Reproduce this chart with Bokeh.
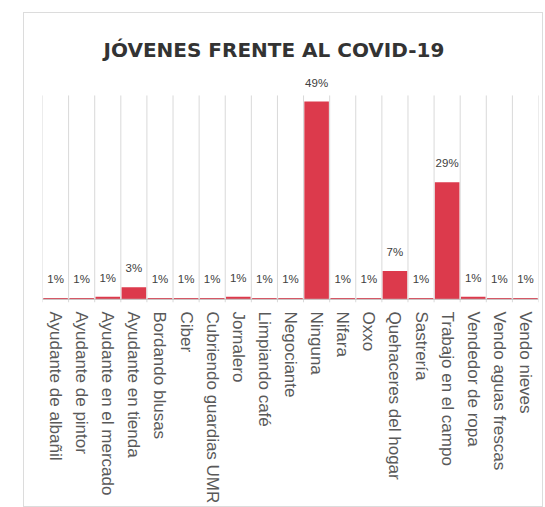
from bokeh.plotting import figure
from bokeh.models import ColumnDataSource, Range1d, LabelSet, Span, FactorRange
from bokeh.transform import dodge
from bokeh.embed import file_html
from bokeh.resources import INLINE
from bokeh.core.properties import value

categories = ["Ayudante de albañil", "Ayudante de pintor", "Ayudante en el mercado",
              "Ayudante en tienda", "Bordando blusas", "Ciber", "Cubriendo guardias UMR",
              "Jornalero", "Limpiando café", "Negociante", "Ninguna", "Nifara", "Oxxo",
              "Quehaceres del hogar", "Sastrería", "Trabajo en el campo", "Vendedor de ropa",
              "Vendo aguas frescas", "Vendo nieves"]
percent = [0.3, 0.3, 0.6, 3, 0.3, 0.3, 0.3, 0.6, 0.3, 0.3, 49, 0.3, 0.3, 7, 0.3, 29, 0.6, 0.3, 0.3]
labels = ["1%", "1%", "1%", "3%", "1%", "1%", "1%", "1%", "1%", "1%", "49%", "1%", "1%",
          "7%", "1%", "29%", "1%", "1%", "1%"]

GRID_TOP = 50.5
src = ColumnDataSource(dict(cat=categories, val=percent, lab=labels,
                            y0=[-0.8] * len(categories), y1=[GRID_TOP] * len(categories)))

p = figure(x_range=FactorRange(*categories), y_range=Range1d(-0.8, 55.2),
           width=520, height=495, output_backend="svg", toolbar_location=None,
           min_border_left=18, min_border_right=6, min_border_top=63, min_border_bottom=206,
           title="JÓVENES FRENTE AL COVID-19")
p.margin = (12, 0, 0, 15)
p.styles = {"border": "1px solid #dcdcdc", "position": "relative", "left": "8px"}

p.title.align = "left"
p.title.offset = 61
p.title.text_font = "DejaVu Sans"
p.title.text_font_size = "20px"
p.title.text_font_style = "bold"
p.title.text_color = "#333333"
p.title.standoff = 30

p.xgrid.grid_line_color = None
p.ygrid.grid_line_color = None
p.outline_line_color = None
p.yaxis.visible = False

# vertical grid lines at category boundaries
p.segment(x0=dodge("cat", -0.5, range=p.x_range), x1=dodge("cat", -0.5, range=p.x_range),
          y0="y0", y1="y1", source=src, line_color="#d9d9d9", line_width=1)
last = ColumnDataSource(dict(cat=[categories[-1]], y0=[-0.8], y1=[GRID_TOP]))
p.segment(x0=dodge("cat", 0.5, range=p.x_range), x1=dodge("cat", 0.5, range=p.x_range),
          y0="y0", y1="y1", source=last, line_color="#d9d9d9", line_width=1)

p.vbar(x="cat", top="val", bottom=0, width=0.94, source=src,
       fill_color="#dc3a4c", line_color=None)

p.add_layout(Span(location=0, dimension="width", line_color="#bfbfbf", line_width=1))

p.add_layout(LabelSet(x="cat", y="val", text="lab", source=src, y_offset=19,
                      text_align="center", text_baseline="middle",
                      text_font=value("Liberation Sans"), text_font_size="11.5px",
                      text_color="#404040"))

p.xaxis.axis_line_color = None
p.xaxis.major_tick_line_color = None
p.xaxis.minor_tick_line_color = None
p.xaxis.major_label_orientation = "vertical"
p.xaxis.major_label_standoff = 3
p.xaxis.major_label_text_font = "Liberation Sans"
p.xaxis.major_label_text_font_size = "17px"
p.xaxis.major_label_text_color = "#595959"

open("out.html", "w").write(file_html(p, INLINE))
